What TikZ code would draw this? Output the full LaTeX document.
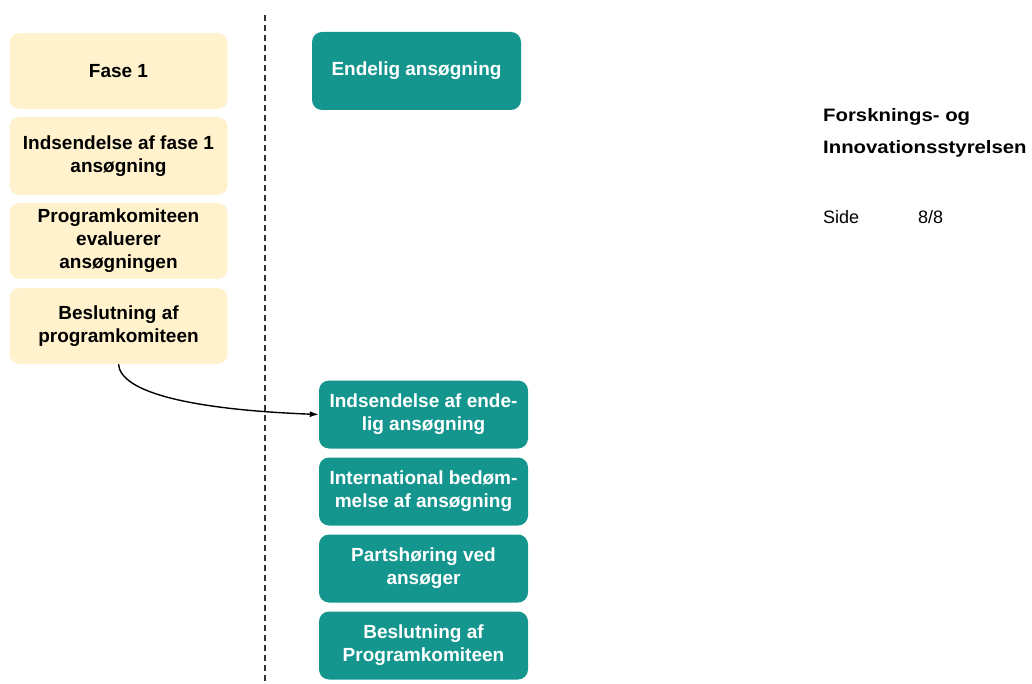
\documentclass[tikz,border=0pt]{standalone}
\usepackage{fontspec}
\setmainfont{Liberation Sans}
\usetikzlibrary{arrows.meta}
\definecolor{phasecream}{RGB}{255,242,204}
\definecolor{finalteal}{RGB}{20,150,143}
\tikzset{
	phase/.style  = {fill=phasecream, rectangle, rounded corners=10pt, minimum width=218pt, minimum height=76pt, align=center, font=\bfseries\fontsize{19}{23}\selectfont, node distance=85pt},
	final/.style  = {fill=finalteal, text=white, rectangle, rounded corners=10pt, minimum width=209pt, minimum height=68pt, align=center, font=\bfseries\fontsize{19}{23}\selectfont, node distance=77pt},
	info/.style   = {anchor=base west, inner sep=0pt, font=\fontsize{18}{22}\selectfont},
	infobold/.style = {info, font=\bfseries\fontsize{18}{22}\selectfont\addfontfeature{FakeStretch=1.13}},
	divider/.style = {draw=black!80, line width=1.3pt, dash pattern=on 6pt off 4pt},
	hidden/.style = {coordinate},
}

\begin{document}
\begin{tikzpicture}[x=1pt, y=-1pt, >={Latex[length=9pt,width=6pt]}]
	\useasboundingbox (0,0) rectangle (1032,684);
	% Draw the phase 1 column
	\draw
	node[phase] at (118.5,71) (fase) {Fase 1}
	node[phase, below of = fase    , minimum height=78pt] (indsend) {Indsendelse af fase 1\\ansøgning}
	node[phase, below of = indsend ] (evaluer) {Programkomiteen\\evaluerer\\ansøgningen}
	node[phase, below of = evaluer ] (beslut) {Beslutning af\\programkomiteen};

	% Draw the final application column
	\draw
	node[final, minimum height=78pt] at (416.5,71) (endelig) {Endelig ansøgning}
	node[final] at (423.5,414.5) (findsend) {Indsendelse af ende-\\lig ansøgning}
	node[final, below of = findsend] (bedoem) {International bedøm-\\melse af ansøgning}
	node[final, below of = bedoem  ] (partshoer) {Partshøring ved\\ansøger}
	node[final, below of = partshoer] (fbeslut) {Beslutning af\\Programkomiteen};

	% Draw the divider
	\draw
	node[hidden] at (265,15) (divtop) {}
	node[hidden] at (265,684) (divbottom) {};
	\draw[divider] (divtop) -- (divbottom);

	% Connect the two phases
	\draw[->, line width=1.4pt] (beslut.south) .. controls +(2,28) and +(-129,-5) .. (findsend.west);

	% Draw the side text
	\node[infobold] at (823,122) (org1) {Forsknings- og};
	\node[infobold] at (823,154) (org2) {Innovationsstyrelsen};
	\node[info] at (823,224) (side) {Side};
	\node[info] at (918,224) (sidenr) {8/8};
\end{tikzpicture}
\end{document}
